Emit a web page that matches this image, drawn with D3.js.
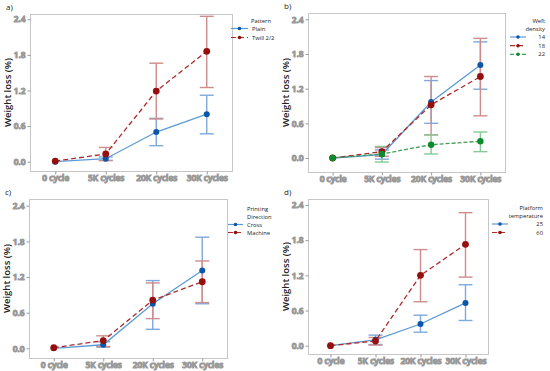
<!DOCTYPE html>
<meta charset="utf-8">
<style>
body { margin: 0; background: #fff; }
text { font-family: "Open Sans", sans-serif; }
.frame { fill: none; stroke: #c6c6c6; stroke-width: 1px; }
.tick { stroke: #9a9a9a; stroke-width: 1px; }
.tick-label { font-size: 8.4px; font-weight: 600; fill: #333; }
.axis-title { font-size: 9.5px; font-weight: 600; fill: #222; }
.panel-label { font-size: 8px; fill: #222; }
.legend text { font-size: 5.8px; fill: #222; }
</style>
<body>
<svg width="550" height="371"></svg>
<script src="https://cdnjs.cloudflare.com/ajax/libs/d3/7.8.5/d3.min.js"></script>
<script>

// categories and tick labels
var cycles = ["0 cycle", "5K cycles", "20K cycles", "30K cycles"];
var yTicks = [0, 0.6, 1.2, 1.8, 2.4];

// a) pattern
var plainMean = [0, 0.05, 0.50, 0.80];
var plainLow  = [0, 0.02, 0.27, 0.47];
var plainHigh = [0, 0.08, 0.73, 1.12];
var twillMean = [0.01, 0.13, 1.19, 1.86];
var twillLow  = [0.01, 0.02, 0.72, 1.25];
var twillHigh = [0.01, 0.24, 1.66, 2.45];

// b) weft density
var w14Mean = [0, 0.06, 0.97, 1.61];
var w14Low  = [0, -0.02, 0.60, 1.19];
var w14High = [0, 0.14, 1.34, 2.01];
var w18Mean = [0, 0.11, 0.92, 1.41];
var w18Low  = [0, 0.03, 0.40, 0.73];
var w18High = [0, 0.18, 1.41, 2.07];
var w22Mean = [0, 0.07, 0.23, 0.29];
var w22Low  = [0, -0.07, 0.07, 0.11];
var w22High = [0, 0.20, 0.40, 0.45];

// c) printing direction
var crossMean = [0, 0.06, 0.75, 1.31];
var crossLow  = [0, 0.02, 0.32, 0.75];
var crossHigh = [0, 0.11, 1.14, 1.87];
var machMean  = [0.01, 0.13, 0.81, 1.12];
var machLow   = [0.01, 0.03, 0.50, 0.77];
var machHigh  = [0.01, 0.21, 1.10, 1.47];

// d) platform temperature
var t25Mean = [0, 0.10, 0.37, 0.73];
var t25Low  = [0, 0.02, 0.23, 0.43];
var t25High = [0, 0.18, 0.52, 1.04];
var t60Mean = [0, 0.08, 1.20, 1.73];
var t60Low  = [0, 0.01, 0.75, 1.17];
var t60High = [0, 0.14, 1.64, 2.27];

var blue  = {line: "#5b9ad6", mark: "#0b56a8", bar: "#7ea9db", dash: null, r: 3};
var red   = {line: "#b02a2a", mark: "#960f0f", bar: "#cf8c8c", dash: "5,3", r: 3.4};
var green = {line: "#3c9f52", mark: "#0d8a2b", bar: "#86c893", dash: "4,2", r: 3.2};

function ser(name, mean, low, high, st) {
  return {name: name, mean: mean, low: low, high: high, st: st};
}

var panels = [
  {label: "a)", box: [30, 14, 232, 171], yDom: [-0.157, 2.489],
   title: [["Pattern", 251, 21]], anchor: "start", textX: 252,
   lineX: [231, 248], entryY: [28.5, 37.5],
   series: [ser("Plain", plainMean, plainLow, plainHigh, blue),
            ser("Twill 2/2", twillMean, twillLow, twillHigh, red)]},
  {label: "b)", box: [308, 13, 505, 172], yDom: [-0.242, 2.509],
   title: [["Weft", 545, 20.5], ["density", 545, 28.5]], anchor: "end", textX: 545,
   lineX: [510, 526], entryY: [37, 45.7, 54.3],
   series: [ser("14", w14Mean, w14Low, w14High, blue),
            ser("18", w18Mean, w18Low, w18High, red),
            ser("22", w22Mean, w22Low, w22High, green)]},
  {label: "c)", box: [29, 199, 227, 358], yDom: [-0.163, 2.513],
   title: [["Printing", 247, 209], ["Direction", 247, 217]], anchor: "start", textX: 247,
   lineX: [228, 243], entryY: [224.5, 232.5],
   series: [ser("Cross", crossMean, crossLow, crossHigh, blue),
            ser("Machine", machMean, machLow, machHigh, red)]},
  {label: "d)", box: [308, 199, 488, 354], yDom: [-0.142, 2.503],
   title: [["Platform", 543, 208], ["temperature", 543, 216]], anchor: "end", textX: 543,
   lineX: [492, 508], entryY: [224, 232.5],
   series: [ser("25", t25Mean, t25Low, t25High, blue),
            ser("60", t60Mean, t60Low, t60High, red)]}
];

var svg = d3.select("svg");

panels.forEach(function(p) {
  var b = p.box;
  var x = d3.scalePoint().domain(cycles).range([b[0], b[2]]).padding(0.5);
  var y = d3.scaleLinear().domain(p.yDom).range([b[3], b[1]]);
  var g = svg.append("g");

  g.append("rect").attr("class", "frame")
    .attr("x", b[0] + 0.5).attr("y", b[1] + 0.5)
    .attr("width", b[2] - b[0]).attr("height", b[3] - b[1]);

  // y axis
  var yAxis = d3.axisLeft(y).tickValues(yTicks).tickFormat(d3.format(".1f")).tickSize(3);
  var ya = g.append("g").attr("transform", "translate(" + (b[0] + 0.5) + ",0)").call(yAxis);
  ya.select(".domain").remove();
  ya.selectAll("line").attr("class", "tick").attr("stroke", null);
  ya.selectAll("text").attr("class", "tick-label").attr("fill", null)
    .attr("font-family", null).attr("font-size", null).attr("x", -5);

  // x axis
  var xAxis = d3.axisBottom(x).tickSize(3);
  var xa = g.append("g").attr("transform", "translate(0," + (b[3] + 0.5) + ")").call(xAxis);
  xa.select(".domain").remove();
  xa.selectAll("line").attr("class", "tick").attr("stroke", null);
  xa.selectAll("text").attr("class", "tick-label").attr("fill", null)
    .attr("font-family", null).attr("font-size", null).attr("y", 3.5);

  g.append("text").attr("class", "axis-title")
    .attr("transform", "translate(" + (b[0] - 22) + "," + ((b[1] + b[3]) / 2) + ") rotate(-90)")
    .attr("text-anchor", "middle").attr("dy", "0.35em")
    .text("Weight loss (%)");

  g.append("text").attr("class", "panel-label")
    .attr("x", b[0] - 24).attr("y", b[1] - 4)
    .text(p.label);

  // error bars
  p.series.forEach(function(s) {
    var eb = g.append("g").attr("stroke", s.st.bar).attr("stroke-width", 1.4).attr("fill", "none");
    cycles.forEach(function(c, i) {
      if (s.high[i] - s.low[i] < 0.005) return;
      var cx = x(c);
      eb.append("line").attr("x1", cx).attr("x2", cx).attr("y1", y(s.low[i])).attr("y2", y(s.high[i]));
      eb.append("line").attr("x1", cx - 7).attr("x2", cx + 7).attr("y1", y(s.low[i])).attr("y2", y(s.low[i]));
      eb.append("line").attr("x1", cx - 7).attr("x2", cx + 7).attr("y1", y(s.high[i])).attr("y2", y(s.high[i]));
    });
  });

  // lines
  var line = d3.line().x(function(d, i) { return x(cycles[i]); }).y(function(d) { return y(d); });
  p.series.forEach(function(s) {
    g.append("path").datum(s.mean)
      .attr("fill", "none").attr("stroke", s.st.line).attr("stroke-width", 1.3)
      .attr("stroke-dasharray", s.st.dash)
      .attr("d", line);
  });
  p.series.forEach(function(s) {
    g.selectAll(null).data(s.mean).enter().append("circle")
      .attr("cx", function(d, i) { return x(cycles[i]); })
      .attr("cy", function(d) { return y(d); })
      .attr("r", s.st.r).attr("fill", s.st.mark);
  });

  // legend
  var lg = g.append("g").attr("class", "legend");
  p.title.forEach(function(t) {
    lg.append("text").attr("x", t[1]).attr("y", t[2]).attr("dy", "0.35em")
      .attr("text-anchor", p.anchor).text(t[0]);
  });
  p.series.forEach(function(s, i) {
    var ly = p.entryY[i];
    lg.append("line").attr("x1", p.lineX[0]).attr("x2", p.lineX[1]).attr("y1", ly).attr("y2", ly)
      .attr("stroke", s.st.line).attr("stroke-width", 1.2).attr("stroke-dasharray", s.st.dash);
    lg.append("circle").attr("cx", (p.lineX[0] + p.lineX[1]) / 2).attr("cy", ly).attr("r", 1.8)
      .attr("fill", s.st.mark);
    lg.append("text").attr("x", p.textX).attr("y", ly).attr("dy", "0.35em")
      .attr("text-anchor", p.anchor).text(s.name);
  });
});

</script>
